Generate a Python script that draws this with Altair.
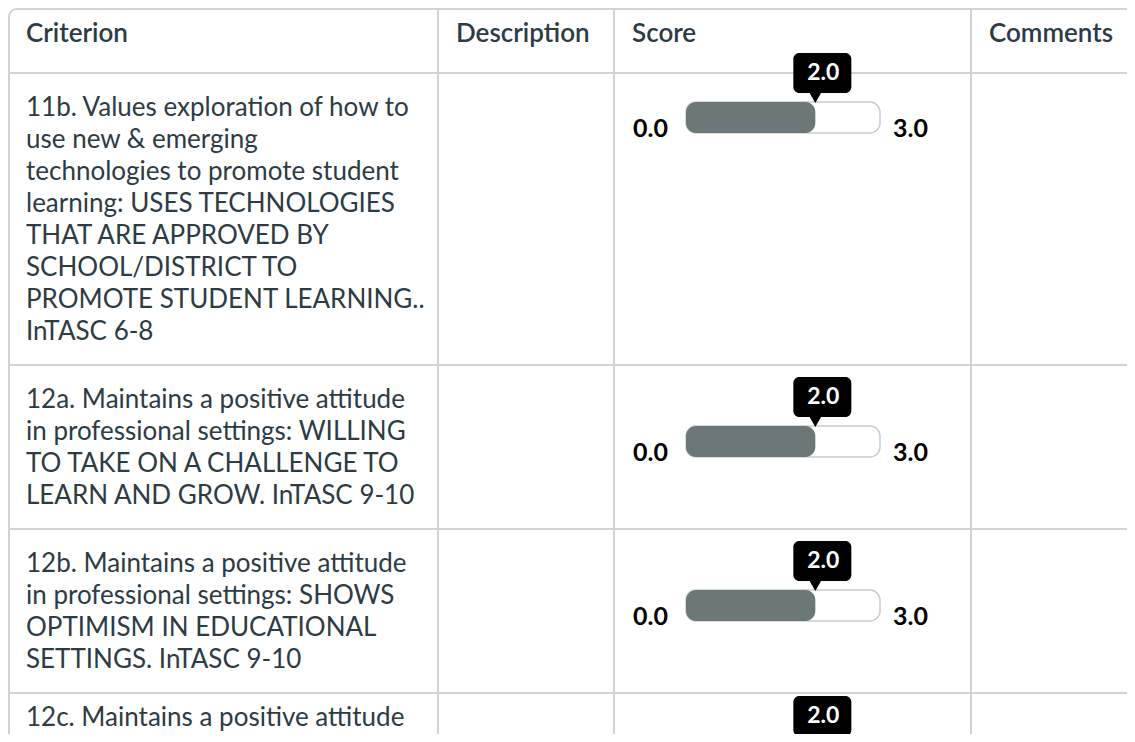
import altair as alt
import pandas as pd

# ---------------- data ----------------
headers = ["Criterion", "Description", "Score", "Comments"]
criteria = [
    ["11b. Values exploration of how to", "use new & emerging",
     "technologies to promote student", "learning: USES TECHNOLOGIES",
     "THAT ARE APPROVED BY", "SCHOOL/DISTRICT TO",
     "PROMOTE STUDENT LEARNING..", "InTASC 6-8"],
    ["12a. Maintains a positive attitude", "in professional settings: WILLING",
     "TO TAKE ON A CHALLENGE TO", "LEARN AND GROW. InTASC 9-10"],
    ["12b. Maintains a positive attitude", "in professional settings: SHOWS",
     "OPTIMISM IN EDUCATIONAL", "SETTINGS. InTASC 9-10"],
    ["12c. Maintains a positive attitude"],
]
scores = [2.0, 2.0, 2.0, 2.0]
score_min = [0.0, 0.0, 0.0, 0.0]
score_max = [3.0, 3.0, 3.0, 3.0]

# ---------------- layout ----------------
W, H = 1119, 726
FONT = "Lato"
TXT = "#2D3B45"
GRID = "#D3D3D0"
col_edges = [0, 430, 606, 963]
pad_x = 18
header_bottom = 65
line_h = 32
first_off = 35
bottom_pad = 33
widget_shift = [0, 32, 32, 32]   # vertical offset of the score widget per row

row_tops = []
t = header_bottom
for lines in criteria:
    row_tops.append(t)
    t += first_off + line_h * (len(lines) - 1) + bottom_pad

hrules = pd.DataFrame({"y": [header_bottom] + row_tops[1:], "x": 0, "x2": W + 20})
vrules = pd.DataFrame({"x": col_edges[1:], "y": 0, "y2": H + 20})
outer = pd.DataFrame({"x": [1], "x2": [W + 40], "y": [1], "y2": [H + 40]})

head_df = pd.DataFrame({"text": headers,
                        "x": [c + pad_x for c in col_edges],
                        "y": 34})
body_rows = []
for top, lines in zip(row_tops, criteria):
    for i, ln in enumerate(lines):
        y = min(top + first_off + i * line_h, H - 16)
        body_rows.append({"text": ln, "x": col_edges[0] + pad_x, "y": y})
body_df = pd.DataFrame(body_rows)

score_df = pd.DataFrame({
    "score": scores, "lo": score_min, "hi": score_max,
    "top": [min(r + s, H - 18) for r, s in zip(row_tops, widget_shift)],
})
score_df["bar_y"] = score_df["top"] + 29
score_df["bar_y2"] = score_df["top"] + 60
score_df["tt_y"] = score_df["top"] - 20
score_df["tt_y2"] = score_df["top"] + 20
score_df["arrow_y"] = score_df["top"] + 23
score_df["tt_text_y"] = score_df["top"]
score_df["lab_y"] = score_df["top"] + 64

sx = alt.Scale(domain=[0, 3], range=[678, 872])

def px(f):
    return alt.X(f, scale=None, axis=None)

def py(f):
    return alt.Y(f, scale=None, axis=None)

base = alt.Chart(score_df)

outer_l = alt.Chart(outer).mark_rect(
    fill="white", fillOpacity=0, stroke=GRID, strokeWidth=2, cornerRadius=8
).encode(x=px("x:Q"), x2="x2:Q", y=py("y:Q"), y2="y2:Q")

h_l = alt.Chart(hrules).mark_rule(color=GRID, strokeWidth=2).encode(
    x=px("x:Q"), x2="x2:Q", y=py("y:Q"))
v_l = alt.Chart(vrules).mark_rule(color=GRID, strokeWidth=2).encode(
    x=px("x:Q"), y=py("y:Q"), y2="y2:Q")

head_l = alt.Chart(head_df).mark_text(
    font=FONT, fontSize=26, fontWeight=600, color=TXT, align="left",
    baseline="alphabetic"
).encode(x=px("x:Q"), y=py("y:Q"), text="text:N")

body_l = alt.Chart(body_df).mark_text(
    font=FONT, fontSize=26, color=TXT, align="left", baseline="middle"
).encode(x=px("x:Q"), y=py("y:Q"), text="text:N")

bg_bar = base.transform_filter(alt.datum.bar_y < H).mark_rect(
    fill="white", stroke="#C9CDD0", strokeWidth=1.5, cornerRadius=10
).encode(x=alt.X("lo:Q", scale=sx, axis=None), x2="hi:Q",
         y=py("bar_y:Q"), y2="bar_y2:Q")

fill_bar = base.transform_filter(alt.datum.bar_y < H).mark_rect(
    fill="#6C7877", cornerRadius=10
).encode(x=alt.X("lo:Q", scale=sx, axis=None), x2="score:Q",
         y=py("bar_y:Q"), y2="bar_y2:Q")

tt_box = base.mark_rect(
    fill="black", cornerRadius=6, xOffset=-22, x2Offset=36
).encode(x=alt.X("score:Q", scale=sx, axis=None), x2="score:Q",
         y=py("tt_y:Q"), y2="tt_y2:Q")

tt_arrow = base.transform_filter(alt.datum.arrow_y < H - 8).mark_point(
    shape="triangle-down", filled=True, fill="black", size=256, opacity=1
).encode(x=alt.X("score:Q", scale=sx, axis=None), y=py("arrow_y:Q"))

tt_text = base.mark_text(
    font=FONT, fontSize=23, fontWeight="bold", color="white", dx=8,
    baseline="middle", align="center"
).encode(x=alt.X("score:Q", scale=sx, axis=None), y=py("tt_text_y:Q"),
         text=alt.Text("score:Q", format=".1f"))

lo_text = base.transform_filter(alt.datum.lab_y < H).mark_text(
    font=FONT, fontSize=25, fontWeight="bold", color="black", dx=-18,
    baseline="alphabetic", align="right"
).encode(x=alt.X("lo:Q", scale=sx, axis=None), y=py("lab_y:Q"),
         text=alt.Text("lo:Q", format=".1f"))

hi_text = base.transform_filter(alt.datum.lab_y < H).mark_text(
    font=FONT, fontSize=25, fontWeight="bold", color="black", dx=13,
    baseline="alphabetic", align="left"
).encode(x=alt.X("hi:Q", scale=sx, axis=None), y=py("lab_y:Q"),
         text=alt.Text("hi:Q", format=".1f"))

chart = alt.layer(
    outer_l, h_l, v_l, head_l, body_l,
    bg_bar, fill_bar, tt_box, tt_arrow, tt_text, lo_text, hi_text
).resolve_scale(x="independent", y="independent").properties(
    width=W, height=H, padding=0, autosize="none", background="white"
).configure_view(strokeWidth=0)

chart.save("out.html", embed_options={"renderer": "svg", "actions": False})
